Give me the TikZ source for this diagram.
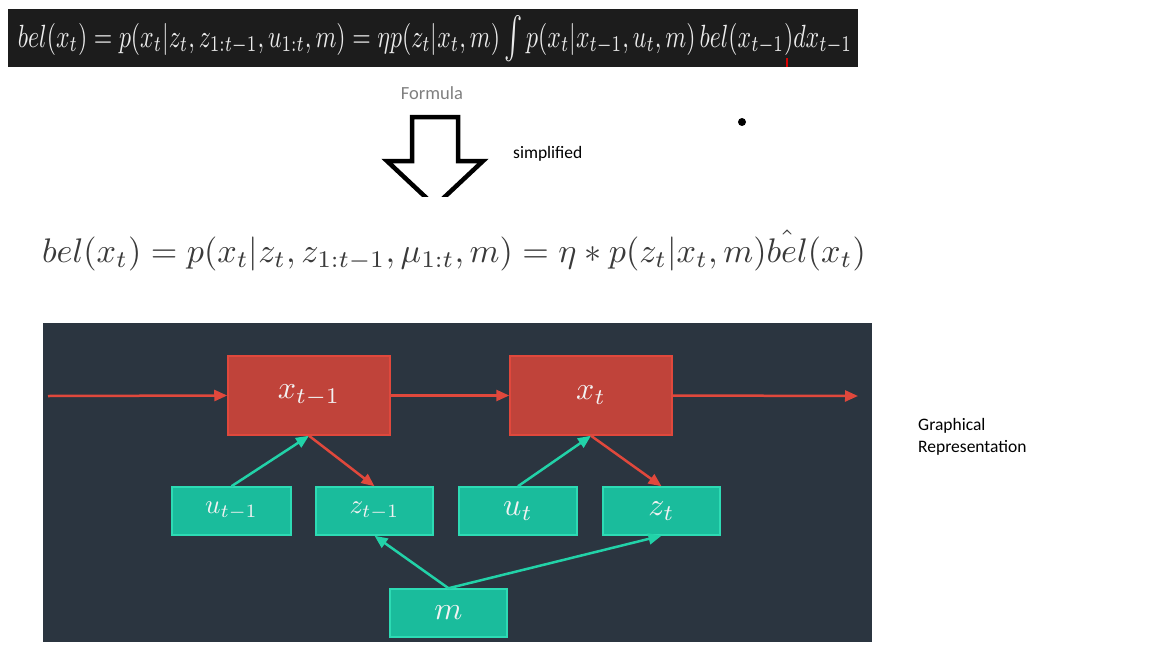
\documentclass[tikz,border=0pt]{standalone}
\usepackage{fontspec}
\usepackage{graphicx}
\newfontfamily\calibri{Carlito}
\usetikzlibrary{arrows.meta}
\definecolor{panel}{HTML}{2B3540}
\definecolor{band}{HTML}{1C1C1C}
\definecolor{redfill}{HTML}{C0433A}
\definecolor{redline}{HTML}{E0483C}
\definecolor{greenfill}{HTML}{1ABC9C}
\definecolor{greenline}{HTML}{2DDBB4}
\definecolor{greenarrow}{HTML}{22D2A8}
\definecolor{boxtext}{HTML}{F2F2F2}
\definecolor{formulagrey}{HTML}{3A3A3A}
\definecolor{labelgrey}{HTML}{7F7F7F}
\newcommand{\boxlabel}[2][3.2]{\scalebox{#1}{$#2$}}
\newcommand{\midint}{\mathop{\vcenter{\hbox{\scalebox{1.15}[1.3]{$\int$}}}}\nolimits}
\tikzset{
  redbox/.style={draw=redline, fill=redfill, line width=1.5pt, minimum width=162pt, minimum height=79pt, inner sep=0pt, text=boxtext},
  greenbox/.style={draw=greenline, fill=greenfill, line width=1.5pt, minimum width=117pt, minimum height=48pt, inner sep=0pt, text=boxtext},
  redarrow/.style={draw=redline, line width=2.5pt, -{Triangle[length=13pt,width=11pt]}},
  greenarr/.style={draw=greenarrow, line width=2.5pt, -{Triangle[length=13pt,width=11pt]}},
  plaintext/.style={font=\calibri\fontsize{17.5}{22}\selectfont, text=black, inner sep=0pt},
}
\begin{document}
\begin{tikzpicture}[x=1pt,y=-1pt]
\useasboundingbox (0,0) rectangle (1152,648);
% top band with formula
\fill[band] (8,9) rectangle (858,67);
\node[text=white!92!black, inner sep=0pt] (f1) at (435,39) {\scalebox{1}[1.35]{\resizebox{834pt}{!}{$bel(x_t) = p(x_t|z_t, z_{1:t-1}, u_{1:t}, m) = \eta p(z_t|x_t,m)\midint p(x_t|x_{t-1}, u_t, m)\,bel(x_{t-1})dx_{t-1}$}}};
\draw[red!85!black, line width=2pt] (787,58) -- (787,67);
% labels
\node[font=\calibri\fontsize{18.5}{22}\selectfont, text=labelgrey, inner sep=0pt] (lformula) at (432,93) {Formula};
\node[plaintext, anchor=west] (lsimp) at (513,154) {simplified};
\fill[black] (742,122) circle (4);
% hollow arrow
\begin{scope}
\clip (370,100) rectangle (500,196);
\draw[black, line width=4.5pt, line join=miter] (412,117) -- (458,117) -- (458,161) -- (483,161) -- (435,206) -- (387,161) -- (412,161) -- cycle;
\end{scope}
% second formula
\node[text=formulagrey, inner sep=0pt] (f2) at (454,250) {\resizebox{824pt}{!}{$bel(x_t) = p(x_t|z_t, z_{1:t-1}, \mu_{1:t}, m) = \eta * p(z_t|x_t, m)\hat{bel}(x_t)$}};
% panel
\fill[panel] (43,323) rectangle (872,642);
\node[redbox] (xt1) at (309,395.5) {\boxlabel{x_{t-1}}};
\node[redbox] (xt) at (591,395.5) {\boxlabel{x_t}};
\node[greenbox, minimum width=119pt] (ut1) at (231.5,511) {\boxlabel[2.7]{u_{t-1}}};
\node[greenbox] (zt1) at (374.5,511) {\boxlabel[2.7]{z_{t-1}}};
\node[greenbox, minimum width=118pt] (ut) at (518,511) {\boxlabel{u_t}};
\node[greenbox] (zt) at (661.5,511) {\boxlabel{z_t}};
\node[greenbox] (m) at (448.5,613) {\boxlabel{m}};
\coordinate (in) at (48,396);
\coordinate (out) at (858,396);
\draw[redarrow] (in) -- (xt1.west);
\draw[redarrow] (xt1.east) -- (xt.west);
\draw[redarrow] (xt.east) -- (out);
\draw[greenarr] (ut1.north) -- (xt1.south);
\draw[redarrow] (xt1.south) -- (zt1.north);
\draw[greenarr] (ut.north) -- (xt.south);
\draw[redarrow] (xt.south) -- (zt.north);
\draw[greenarr] (m.north) -- (zt1.south);
\draw[greenarr] (m.north) -- (zt.south);
% graphical representation
\node[plaintext, anchor=west, align=left] (lgraph) at (918,437) {Graphical\\Representation};
\end{tikzpicture}
\end{document}
